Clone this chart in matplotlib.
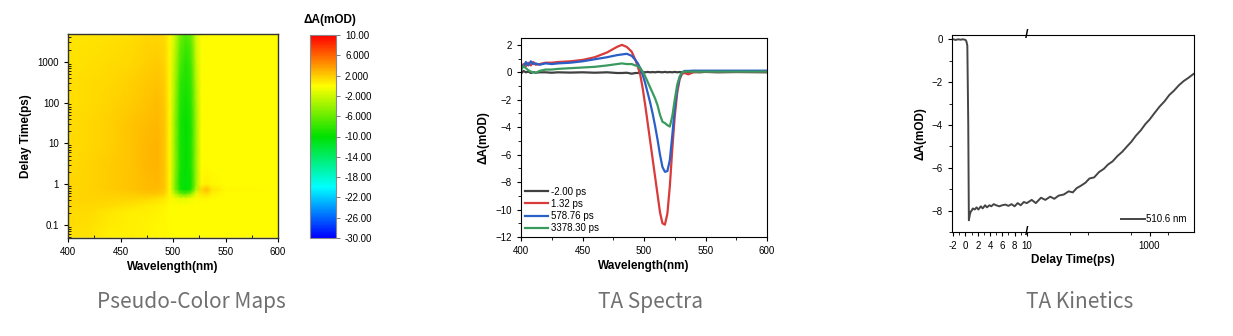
import numpy as np
import matplotlib
matplotlib.use("Agg")
import matplotlib.pyplot as plt
from matplotlib.colors import LinearSegmentedColormap
from matplotlib.ticker import FixedLocator, NullFormatter, LogLocator
import matplotlib.transforms as mtransforms

plt.rcParams['font.family'] = ['Liberation Sans', 'DejaVu Sans']

# ---- pseudo-colour map (delta A in mOD, rows = delay, cols = wavelength)
map_wl = [400, 420, 440, 460, 475, 485, 492, 497, 502, 507, 512, 517,
          522, 527, 532, 537, 550, 600]
map_delay = [0.05, 0.1, 0.2, 0.3, 0.45, 0.6, 0.75, 1, 3, 10, 30, 100,
             300, 1000, 3000, 4800]
map_dA = [
    [1.2, 1.0, 0.6, 0.5, 0.4, 0.3, 0.2, 0.1, 0, 0, 0, 0, 0, 0, 0, 0, 0, 0],
    [1.3, 1.1, 0.7, 0.5, 0.4, 0.3, 0.2, 0.1, 0, 0, 0, 0, 0, 0, 0, 0, 0, 0],
    [1.4, 1.3, 0.9, 0.6, 0.5, 0.4, 0.3, 0.1, 0, 0, 0, 0, 0, 0, 0, 0, 0, 0],
    [1.5, 1.5, 1.3, 1.0, 0.7, 0.6, 0.4, 0.1, 0, 0, 0, 0, 0, 0, 0, 0, 0, 0],
    [1.5, 1.6, 1.6, 1.6, 1.5, 1.2, 0.8, 0.2, -0.5, -1.0, -1.0, -0.6, 0, 0.3, 0.2, 0, 0, 0],
    [1.5, 1.7, 1.8, 2.0, 2.2, 2.3, 1.8, 0.3, -3, -6, -7, -5, -1, 1.0, 1.5, 0.5, 0, 0],
    [1.5, 1.7, 1.9, 2.2, 2.5, 2.6, 2.1, 0.3, -5, -9, -10, -9, -3, 1.5, 2.6, 1.0, 0.2, 0],
    [1.5, 1.7, 1.9, 2.3, 2.6, 2.8, 2.2, 0.3, -5, -9.5, -10.5, -9.5, -4, 0.3, 0.5, 0.2, 0, 0],
    [1.4, 1.6, 1.9, 2.3, 2.7, 2.9, 2.3, 0.3, -4.5, -9, -10, -9, -4, 0, 0, 0, 0, 0],
    [1.3, 1.5, 1.8, 2.3, 2.7, 2.9, 2.3, 0.3, -4.5, -9, -10, -9, -4, 0, 0, 0, 0, 0],
    [1.3, 1.5, 1.8, 2.2, 2.6, 2.8, 2.2, 0.3, -4.5, -9, -10, -9, -4, 0, 0, 0, 0, 0],
    [1.2, 1.4, 1.6, 2.0, 2.3, 2.5, 2.1, 0.3, -4, -8.5, -9.5, -8.5, -3.5, 0, 0, 0, 0, 0],
    [1.1, 1.3, 1.5, 1.8, 2.1, 2.2, 1.9, 0.3, -3.5, -8, -9, -8, -3, 0, 0, 0, 0, 0],
    [1.0, 1.1, 1.3, 1.5, 1.8, 1.9, 1.7, 0.3, -3, -7, -8.5, -7.5, -2.5, 0, 0, 0, 0, 0],
    [1.0, 1.0, 1.1, 1.3, 1.6, 1.7, 1.5, 0.2, -2.5, -6, -7.5, -6.5, -2, 0, 0, 0, 0, 0],
    [0.9, 1.0, 1.0, 1.2, 1.5, 1.6, 1.4, 0.2, -2.2, -5.5, -7, -6, -1.8, 0, 0, 0, 0, 0],
]
cbar_ticks = [10, 6, 2, -2, -6, -10, -14, -18, -22, -26, -30]

# ---- transient spectra
spec_wl = [400, 402, 404, 406, 408, 410, 412, 415, 420, 425, 430, 440, 450,
           460, 470, 478, 482, 486, 490, 493, 495, 497, 499, 501, 503, 505,
           507, 509, 511, 513, 515, 517, 519, 521, 523, 525, 527, 529, 531,
           533, 536, 540, 545, 550, 560, 575, 600]
spec_m2 = [-0.1, 0.1, 0.0, 0.05, -0.05, 0.02, -0.03, 0.0, 0.0, -0.03, 0.0,
           -0.02, 0.0, -0.03, 0.0, -0.05, -0.05, -0.03, -0.1, -0.05, -0.05,
           0.0, 0.02, 0.0, 0.03, 0.0, 0.02, 0.0, 0.03, 0.02, 0.0, 0.03, 0.0,
           0.02, 0.0, 0.03, 0.0, 0.02, 0.0, 0.03, 0.0, 0.02, 0.0, 0.03, 0.0,
           0.02, 0.0]
spec_1p32 = [0.35, 0.6, 0.45, 0.7, 0.5, 0.75, 0.55, 0.6, 0.7, 0.7, 0.75, 0.8,
             0.9, 1.1, 1.45, 1.85, 2.0, 1.85, 1.5, 0.9, 0.4, -0.2, -1.2, -2.4,
             -3.7, -5.0, -6.3, -7.6, -8.9, -10.2, -11.0, -11.1, -10.3, -8.3,
             -5.6, -3.2, -1.5, -0.5, -0.1, -0.05, -0.15, 0.0, 0.05, 0.05,
             0.05, 0.05, 0.05]
spec_578 = [0.5, 0.4, 0.75, 0.5, 0.8, 0.6, 0.65, 0.55, 0.65, 0.6, 0.65, 0.7,
            0.8, 0.95, 1.1, 1.25, 1.3, 1.35, 1.2, 0.9, 0.65, 0.3, -0.2, -0.8,
            -1.5, -2.2, -3.0, -3.9, -4.9, -6.0, -6.9, -7.25, -7.2, -6.4, -4.6,
            -2.6, -1.2, -0.4, 0.0, 0.1, 0.1, 0.12, 0.12, 0.12, 0.12, 0.12,
            0.12]
spec_3378 = [0.15, 0.45, 0.3, 0.15, 0.05, 0.0, -0.05, 0.1, 0.2, 0.2, 0.25,
             0.3, 0.35, 0.4, 0.5, 0.6, 0.65, 0.6, 0.6, 0.5, 0.45, 0.3, 0.05,
             -0.3, -0.7, -1.1, -1.5, -1.9, -2.4, -3.1, -3.6, -3.7, -3.85,
             -3.95, -3.2, -2.0, -0.9, -0.3, 0.0, 0.05, 0.05, 0.05, 0.05, 0.05,
             0.05, 0.05, 0.05]
spec_labels = ["-2.00 ps", "1.32 ps", "578.76 ps", "3378.30 ps"]
spec_colors = ["#404040", "#d93a3a", "#2a5fc8", "#3a9a5e"]

# ---- kinetic trace at 510.6 nm
kin_t = [-2, -1.6, -1.2, -0.8, -0.4, 0, 0.15, 0.3, 0.45, 0.55, 0.7, 0.85,
         1.0, 1.2, 1.5, 1.8, 2.1, 2.5, 2.8, 3.2, 3.5, 3.9, 4.2, 4.6, 5.0,
         5.5, 6.0, 6.5, 7.0, 7.5, 8.0, 8.5, 9.0, 9.5, 10,
         12, 14, 17, 20, 24, 28, 33, 40, 48, 56, 65, 75, 90, 105, 125, 150,
         180, 210, 250, 300, 360, 430, 500, 600, 720, 860, 1000, 1200, 1450,
         1750, 2100, 2500, 3000, 3600, 4300, 5200]
kin_dA = [0.0, -0.03, 0.0, -0.02, 0.0, -0.03, -0.1, -0.3, -4.0, -8.45, -8.2,
          -8.05, -8.0, -7.9, -7.95, -7.85, -7.95, -7.8, -7.9, -7.75, -7.85,
          -7.75, -7.8, -7.7, -7.75, -7.8, -7.75, -7.72, -7.78, -7.7, -7.8,
          -7.65, -7.75, -7.6, -7.65,
          -7.5, -7.65, -7.4, -7.5, -7.35, -7.45, -7.3, -7.25, -7.1, -7.15,
          -6.95, -6.85, -6.7, -6.5, -6.45, -6.2, -6.05, -5.85, -5.7, -5.45,
          -5.25, -5.0, -4.8, -4.5, -4.25, -3.95, -3.75, -3.45, -3.15, -2.9,
          -2.6, -2.4, -2.15, -1.95, -1.8, -1.62]

W, H = 1233, 336
fig = plt.figure(figsize=(W / 100, H / 100), dpi=100)


def px_axes(left, top, right, bottom):
    return fig.add_axes([left / W, 1 - bottom / H, (right - left) / W,
                         (bottom - top) / H])


tick_fs = 7
label_kw = dict(fontsize=8.5, fontweight='bold')

# ---------------- pseudo-colour map
cmap = LinearSegmentedColormap.from_list(
    'ta', [(0.0, '#0000ff'), (0.25, '#00ffff'), (0.5, '#00e000'),
           (0.75, '#ffff00'), (1.0, '#ff0000')])
ax1 = px_axes(68, 34, 278, 238)
X, Y = np.meshgrid(map_wl, map_delay)
mesh = ax1.pcolormesh(X, Y, np.array(map_dA), cmap=cmap, vmin=-30, vmax=10,
                      shading='gouraud')
ax1.set_yscale('log')
ax1.set_xlim(400, 600)
ax1.set_ylim(0.048, 4800)
ax1.set_xticks([400, 450, 500, 550, 600])
ax1.xaxis.set_minor_locator(FixedLocator([425, 475, 525, 575]))
ax1.yaxis.set_major_locator(FixedLocator([0.1, 1, 10, 100, 1000]))
ax1.set_yticklabels(['0.1', '1', '10', '100', '1000'])
ax1.yaxis.set_minor_locator(LogLocator(base=10, subs=np.arange(2, 10)))
ax1.yaxis.set_minor_formatter(NullFormatter())
ax1.tick_params(labelsize=tick_fs, direction='out', length=3, width=0.8)
ax1.tick_params(which='minor', direction='in', length=2, width=0.6)
ax1.set_xlabel('Wavelength(nm)', labelpad=3, **label_kw)
ax1.set_ylabel('Delay Time(ps)', labelpad=4, **label_kw)
for s in ax1.spines.values():
    s.set_color('#333333')
    s.set_linewidth(1.0)

cax = px_axes(310, 35, 336, 238)
cb = fig.colorbar(mesh, cax=cax)
cb.set_ticks(cbar_ticks)
cb.set_ticklabels([f"{v:.2f}" if abs(v) >= 10 else f"{v:.3f}"
                   for v in cbar_ticks])
cb.ax.tick_params(labelsize=tick_fs, length=3, width=0.6, color='#666666')
cb.outline.set_edgecolor('#888888')
cb.outline.set_linewidth(0.8)
fig.text(330 / W, 1 - 20 / H, 'ΔA(mOD)', ha='center', va='center',
         fontsize=8.5, fontweight='bold')

# ---------------- transient spectra
ax2 = px_axes(521, 38, 767, 237)
for vals, lab, col in zip([spec_m2, spec_1p32, spec_578, spec_3378],
                          spec_labels, spec_colors):
    ax2.plot(spec_wl, vals, color=col, lw=1.6, label=lab)
ax2.set_xlim(400, 600)
ax2.set_ylim(-12, 2.5)
ax2.set_xticks([400, 450, 500, 550, 600])
ax2.xaxis.set_minor_locator(FixedLocator([425, 475, 525, 575]))
ax2.set_yticks([2, 0, -2, -4, -6, -8, -10, -12])
ax2.yaxis.set_minor_locator(FixedLocator([1, -1, -3, -5, -7, -9, -11]))
ax2.tick_params(labelsize=tick_fs, direction='out', length=3, width=0.8)
ax2.tick_params(which='minor', length=2, width=0.6)
ax2.set_xlabel('Wavelength(nm)', labelpad=3, **label_kw)
ax2.set_ylabel('ΔA(mOD)', labelpad=4, **label_kw)
ax2.legend(loc='lower left', frameon=False, fontsize=7, handlelength=2.4,
           handletextpad=0.3, labelspacing=0.22, borderaxespad=0.2,
           borderpad=0.2)


# ---------------- kinetics: linear up to 10 ps, log beyond
def fwd(x):
    x = np.asarray(x, dtype=float)
    return np.where(x <= 10, x, 10 + 10 * np.log10(np.maximum(x, 10) / 10))


def inv(y):
    y = np.asarray(y, dtype=float)
    return np.where(y <= 10, y, 10 * 10 ** ((np.maximum(y, 10) - 10) / 10))


ax3 = px_axes(952, 35, 1194, 232)
ax3.set_xscale('function', functions=(fwd, inv))
ax3.plot(kin_t, kin_dA, color='#454545', lw=1.4, label='510.6 nm')
ax3.set_xlim(-2.2, 5300)
ax3.set_ylim(-9, 0.2)
ax3.xaxis.set_major_locator(FixedLocator([-2, 0, 2, 4, 6, 8, 10, 1000]))
ax3.set_xticklabels(['-2', '0', '2', '4', '6', '8', '10', '1000'])
ax3.xaxis.set_minor_locator(FixedLocator([-1, 1, 3, 5, 7, 9, 50, 100, 500,
                                          2000]))
ax3.xaxis.set_minor_formatter(NullFormatter())
ax3.set_yticks([0, -2, -4, -6, -8])
ax3.yaxis.set_minor_locator(FixedLocator([-1, -3, -5, -7, -9]))
ax3.tick_params(labelsize=tick_fs, direction='out', length=3, width=0.8)
ax3.tick_params(which='minor', length=2, width=0.6)
ax3.set_xlabel('Delay Time(ps)', labelpad=2, **label_kw)
ax3.set_ylabel('ΔA(mOD)', labelpad=4, **label_kw)
ax3.legend(loc='lower right', frameon=False, fontsize=7, handlelength=2.4,
           handletextpad=0.1, borderaxespad=0.4)
brk = mtransforms.blended_transform_factory(ax3.transData, ax3.transAxes)
for yy in (0, 1):
    ax3.text(10, yy, '/', transform=brk, ha='center', va='center',
             fontsize=9, fontweight='bold', clip_on=False)

# ---------------- captions
cap_kw = dict(ha='center', va='center', fontsize=15, color='#707070',
              family=['Noto Sans CJK SC', 'DejaVu Sans'], fontweight='light')
fig.text(191 / W, 1 - 302 / H, 'Pseudo-Color Maps', **cap_kw)
fig.text(650 / W, 1 - 302 / H, 'TA Spectra', **cap_kw)
fig.text(1080 / W, 1 - 302 / H, 'TA Kinetics', **cap_kw)

fig.savefig('out.png', dpi=100, facecolor='white')
